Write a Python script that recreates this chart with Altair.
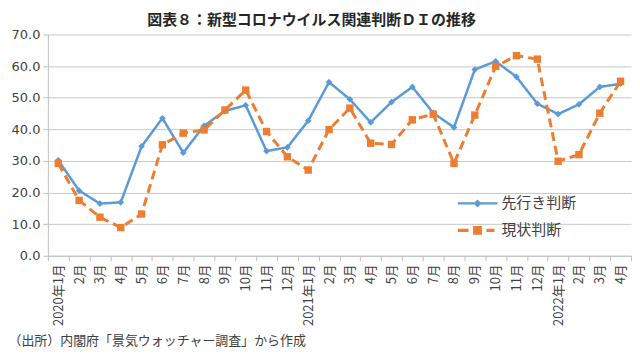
import altair as alt
import pandas as pd

months = ["2020年1月", "2月", "3月", "4月", "5月", "6月", "7月", "8月", "9月", "10月", "11月", "12月",
          "2021年1月", "2月", "3月", "4月", "5月", "6月", "7月", "8月", "9月", "10月", "11月", "12月",
          "2022年1月", "2月", "3月", "4月"]
senkou = [30.2, 20.6, 16.5, 16.9, 34.6, 43.5, 32.6, 41.1, 45.8, 47.6, 33.1, 34.3,
          42.7, 54.9, 49.5, 42.2, 48.6, 53.4, 45.2, 40.6, 58.9, 61.5, 56.6, 48.1,
          44.8, 47.9, 53.4, 54.4]
genjou = [29.2, 17.5, 12.2, 8.9, 13.2, 35.1, 38.8, 39.8, 46.1, 52.4, 39.3, 31.3,
          27.1, 39.9, 46.7, 35.6, 35.2, 43.0, 44.8, 29.2, 44.5, 59.9, 63.3, 62.2,
          29.9, 32.0, 45.1, 55.2]
series_names = ["先行き判断", "現状判断"]
colors = ["#5B9BD5", "#ED7D31"]

rows = []
for i, (a, b) in enumerate(zip(senkou, genjou)):
    rows.append({"idx": i, "series": series_names[0], "value": a})
    rows.append({"idx": i, "series": series_names[1], "value": b})
df = pd.DataFrame(rows)

JP = "Noto Sans CJK JP"
label_expr = "[" + ",".join("'" + m + "'" for m in months) + "][datum.value]"

x_enc = alt.X(
    "idx:O",
    scale=alt.Scale(type="band", paddingInner=0, paddingOuter=0),
    bandPosition=0.5,
    axis=alt.Axis(
        labelExpr=label_expr, labelAngle=270, tickBand="extent",
        labelFont=JP, labelFontSize=13, labelColor="#404040", labelPadding=3,
        domainColor="#BFBFBF", tickColor="#BFBFBF", tickSize=5,
        title="（出所）内閣府「景気ウォッチャー調査」から作成",
        titleAnchor="start", titleAlign="left", titleX=-40, titleY=92,
        titleBaseline="bottom", titleFont=JP, titleFontSize=13,
        titleFontWeight="normal", titleColor="#404040",
    ),
)
y_enc = alt.Y(
    "value:Q",
    scale=alt.Scale(domain=[0, 70], nice=False),
    axis=alt.Axis(
        values=list(range(0, 71, 10)), format=".1f", title=None, grid=True,
        gridColor="#C8C8C8", domainColor="#BFBFBF", tickColor="#BFBFBF", tickSize=5,
        labelFont="DejaVu Sans", labelFontSize=13, labelColor="#404040", labelPadding=3,
    ),
)

color_nolegend = alt.Color("series:N", scale=alt.Scale(domain=series_names, range=colors), legend=None)

lines = alt.Chart(df).mark_line().encode(
    x=x_enc, y=y_enc, color=color_nolegend,
    strokeDash=alt.StrokeDash("series:N", scale=alt.Scale(domain=series_names, range=[[1, 0], [9, 5]]), legend=None),
    strokeWidth=alt.StrokeWidth("series:N", scale=alt.Scale(domain=series_names, range=[2.5, 3]), legend=None),
)

points = alt.Chart(df).mark_point(filled=True, opacity=1).encode(
    x=x_enc, y=y_enc, color=color_nolegend,
    shape=alt.Shape("series:N", scale=alt.Scale(domain=series_names, range=["diamond", "square"]), legend=None),
    size=alt.Size("series:N", scale=alt.Scale(domain=series_names, range=[45, 55]), legend=None),
)

legend_paths = [
    "M-1,-0.06H1V0.06H-1Z M0,-0.2L0.2,0L0,0.2L-0.2,0Z",
    "M-1,-0.08H-0.45V0.08H-1Z M-0.22,-0.22H0.22V0.22H-0.22Z M0.45,-0.08H0.85V0.08H0.45Z",
]
leg = alt.Legend(
    title=None, orient="none", legendX=411, legendY=156, symbolSize=1600,
    clipHeight=27, rowPadding=0, padding=0, labelFont=JP, labelFontSize=15,
    labelColor="#404040", labelOffset=4, symbolStrokeWidth=0, symbolOpacity=1,
)
legend_layer = alt.Chart(df).transform_filter("false").mark_point(filled=True, opacity=1).encode(
    color=alt.Color("series:N", scale=alt.Scale(domain=series_names, range=colors), legend=leg),
    shape=alt.Shape("series:N", scale=alt.Scale(domain=series_names, range=legend_paths), legend=leg),
)

chart = alt.layer(lines, points, legend_layer).resolve_scale(
    color="independent", shape="independent"
).properties(
    width=585, height=222,
    padding={"left": 0, "top": 5, "right": 0, "bottom": 0},
    title=alt.TitleParams(
        "図表８：新型コロナウイルス関連判断ＤＩの推移", font=JP, fontSize=15,
        fontWeight="bold", color="#262626", anchor="middle", dx=-28, offset=0,
    ),
).configure_view(strokeWidth=0)

chart.save("out.html", embed_options={"renderer": "svg", "actions": False})
